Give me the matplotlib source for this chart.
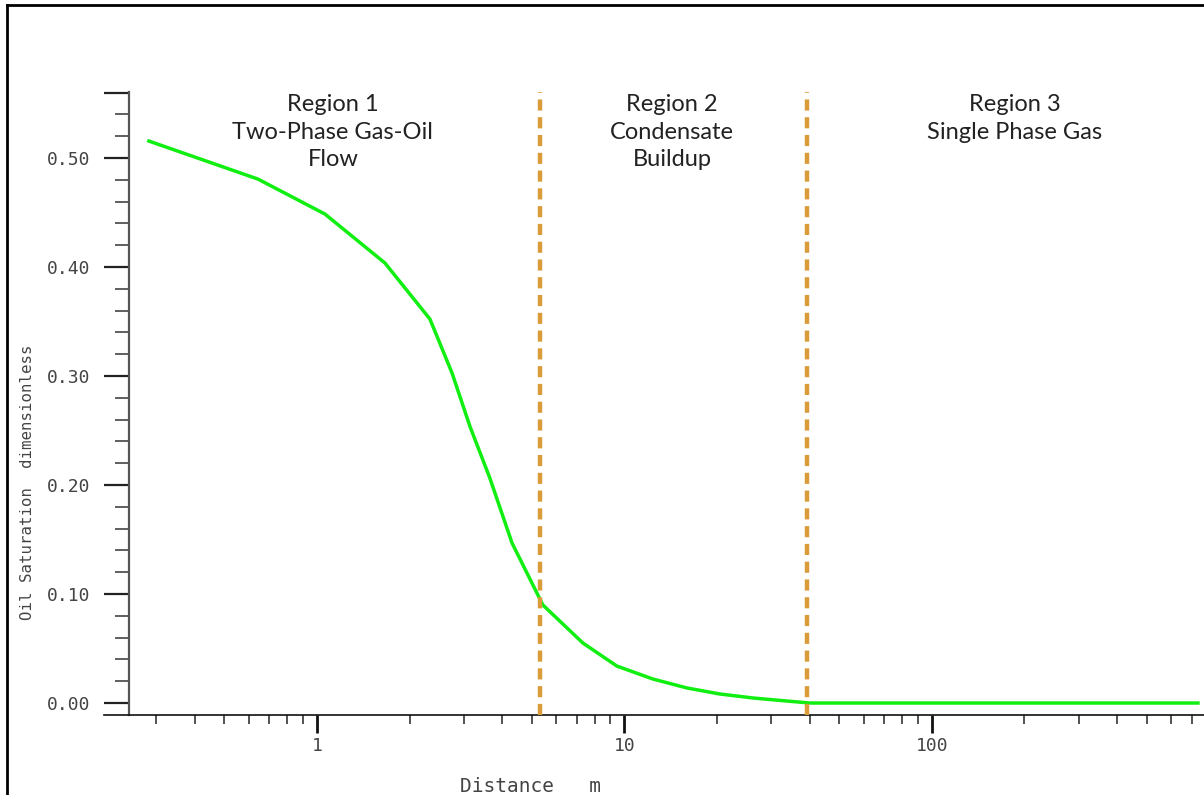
import numpy as np
import matplotlib
matplotlib.use("Agg")
import matplotlib.pyplot as plt
from matplotlib.lines import Line2D
from matplotlib.ticker import LogLocator, MultipleLocator, FixedLocator, NullFormatter

# oil saturation profile vs distance from the well
distance_m = [0.284, 0.643, 1.062, 1.664, 2.33, 2.75, 3.15, 3.65, 4.31, 5.43,
              7.33, 9.45, 12.38, 15.97, 20.4, 26.2, 33.8, 40.1, 733.0]
oil_saturation = [0.5156, 0.4807, 0.4486, 0.4037, 0.3523, 0.3028, 0.2532, 0.2064,
                  0.1468, 0.0899, 0.055, 0.0339, 0.022, 0.0138, 0.0083, 0.0046,
                  0.0018, 0.0, 0.0]

# region boundaries (m)
region_bounds = [5.31, 39.2]
region_label_x = [1.127, 14.27, 186.0]
region_labels = ["Region 1\nTwo-Phase Gas-Oil\nFlow",
                 "Region 2\nCondensate\nBuildup",
                 "Region 3\nSingle Phase Gas"]

y_major = [0.0, 0.1, 0.2, 0.3, 0.4, 0.5, 0.56]
x_major = [1, 10, 100]

W, H = 1204, 795
fig = plt.figure(figsize=(W / 100, H / 100), dpi=100)
fig.patch.set_facecolor("white")

ax = fig.add_axes([104 / W, 1 - 715 / H, 1 - 104 / W, (715 - 92) / H])
ax.set_xscale("log")
ax.set_xlim(0.203, 767)
ax.set_ylim(-0.011, 0.5606)

ax.plot(distance_m, oil_saturation, color="#11ee11", lw=2.5, solid_joinstyle="round", zorder=3)
for xb in region_bounds:
    ax.axvline(xb, color="#da9c38", lw=3.2, dashes=(2.5, 1.5), zorder=4)

tick_font = dict(family="DejaVu Sans Mono", size=13, color="#444444")
for xl, txt in zip(region_label_x, region_labels):
    ax.text(xl, 0.997, txt, transform=ax.get_xaxis_transform(), ha="center", va="top",
            family="Lato", fontsize=17, color="#222222", linespacing=1.4)

# axes styling
for s in ["top", "right"]:
    ax.spines[s].set_visible(False)
ax.spines["left"].set_position(("data", 0.245))
ax.spines["left"].set_color("#555555")
ax.spines["left"].set_linewidth(1.6)
ax.spines["bottom"].set_color("#111111")
ax.spines["bottom"].set_linewidth(1.2)

ax.yaxis.set_major_locator(FixedLocator(y_major))
ax.set_yticklabels(["%.2f" % v if v < 0.55 else "" for v in y_major], **tick_font)
ax.yaxis.set_minor_locator(MultipleLocator(0.02))
ax.tick_params(axis="y", which="major", length=18, width=1.6, color="#222222", pad=10)
ax.tick_params(axis="y", which="minor", length=10, width=1.2, color="#444444")

ax.xaxis.set_major_locator(FixedLocator(x_major))
ax.set_xticklabels([str(v) for v in x_major], **tick_font)
ax.xaxis.set_minor_locator(LogLocator(base=10, subs=np.arange(2, 10)))
ax.xaxis.set_minor_formatter(NullFormatter())
ax.tick_params(axis="x", which="major", length=13, width=2.0, color="#111111", pad=3)
ax.tick_params(axis="x", which="minor", length=6.5, width=1.3, color="#444444")

fig.text(28 / W, 1 - 482 / H, "Oil Saturation  dimensionless", rotation=90,
         ha="center", va="center", family="DejaVu Sans Mono", size=11.3, color="#444444")
fig.text(531 / W, 1 - 787 / H, "Distance   m", ha="center", va="center",
         family="DejaVu Sans Mono", size=14, color="#444444")

# outer frame (top and left)
fig.add_artist(Line2D([7 / W, 7 / W], [0, 1 - 5 / H], transform=fig.transFigure, color="black", lw=2))
fig.add_artist(Line2D([7 / W, 1], [1 - 5 / H, 1 - 5 / H], transform=fig.transFigure, color="black", lw=2))

fig.savefig("out.png", dpi=100)
